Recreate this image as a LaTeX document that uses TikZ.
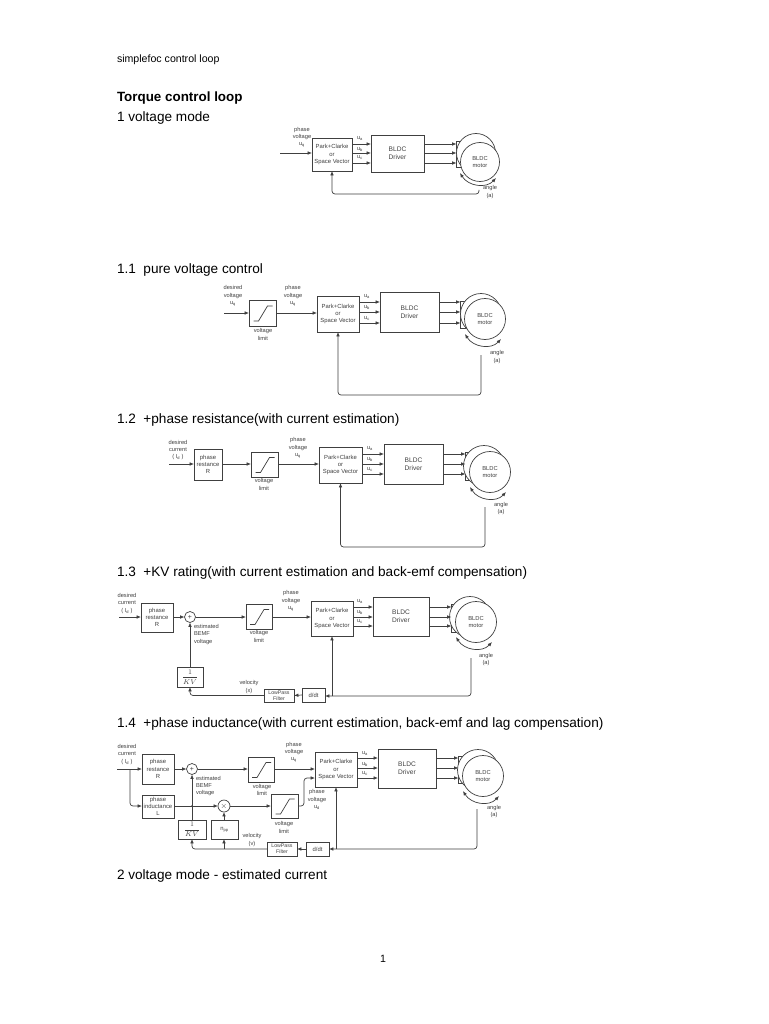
\documentclass[tikz,border=0pt]{standalone}
\usepackage{fontspec}
\setmainfont{Liberation Sans}
\usetikzlibrary{arrows.meta,calc}
\definecolor{ink}{gray}{0.25}
\newcounter{lblno}
\tikzset{
 every node/.style={inner sep=0pt,outer sep=0pt},
 blk/.style={draw=ink,line width=.8pt,fill=white,align=center,text=ink,font=\fontsize{5.9}{7.3}\selectfont},
 big/.style={font=\fontsize{6.6}{8}\selectfont},
 lbl/.style={align=center,text=ink,font=\fontsize{5.7}{7.3}\selectfont},
 lblw/.style={lbl,align=left,anchor=west},
 wire/.style={draw=ink,line width=.7pt},
 arr/.style={wire,-{Latex[length=4.4pt,width=3.6pt]}},
 arrb/.style={wire,{Latex[length=4.4pt,width=3.6pt]}-{Latex[length=4.4pt,width=3.6pt]}},
 fbk/.style={arr,rounded corners=3pt},
 ring/.style={draw=ink,line width=.7pt,circle,fill=white,align=center,text=ink,font=\fontsize{5.8}{7.3}\selectfont},
 head/.style={anchor=base west,font=\fontsize{13.6}{15}\selectfont},
 tiny/.style={font=\fontsize{5.2}{6}\selectfont},
 frac/.style={font=\fontsize{7}{8}\selectfont},
}
\newcommand\bx[7]{\node[blk,#1,minimum width={(#5-#3)*1pt},minimum height={(#6-#4)*1pt}] (#2) at ({(#3+#5)/2},{(#4+#6)/2}) {#7};}
\newcommand\lb[3]{\stepcounter{lblno}\node[lbl] (lab\arabic{lblno}) at (#1,#2) {#3};}
\newcommand\sat[1]{\draw[wire] ([shift={(-9,8)}]#1.center) -- ([shift={(-4,8)}]#1.center) -- ([shift={(5,-7)}]#1.center) -- ([shift={(10,-7)}]#1.center);}
\newcommand\motor[9]{%
 \node[draw=ink,line width=.6pt,fill=white,minimum width=5pt,minimum height={(#8-#7)*1pt},anchor=north east] (#1s) at ({#4-#6+1},#7) {};
 \node[ring,minimum size={2*#6*1pt}] (#1o) at (#2,#3) {};
 \node[ring,minimum size={2*#6*1pt}] (#1i) at (#4,#5) {BLDC\\motor};
 \coordinate (#1p) at ({#4-20},{#5+15+#9});
 \coordinate (#1q) at ({#4+16},{#5+20+#9});
 \coordinate (#1c) at ({#4-12},{#5+28+#9});
 \coordinate (#1d) at ({#4+6},{#5+31+#9});
 \draw[arrb] (#1p) .. controls (#1c) and (#1d) .. (#1q);
}
\newcommand\three[6]{% park, driver, stator, y1,y2,y3
 \draw[arr] (#1.east |- 0,#4) -- (#2.west |- 0,#4);
 \draw[arr] (#1.east |- 0,#5) -- (#2.west |- 0,#5);
 \draw[arr] (#1.east |- 0,#6) -- (#2.west |- 0,#6);
 \draw[arr] (#2.east |- 0,#4) -- (#3.west |- 0,#4);
 \draw[arr] (#2.east |- 0,#5) -- (#3.west |- 0,#5);
 \draw[arr] (#2.east |- 0,#6) -- (#3.west |- 0,#6);
}
\newcommand\us[4]{\lb{#1}{#2}{u\textsubscript{a}}\lb{#1}{#3}{u\textsubscript{b}}\lb{#1}{#4}{u\textsubscript{c}}}
\begin{document}
\begin{tikzpicture}[x=1pt,y=-1pt]
\useasboundingbox[fill=white] (0,0) rectangle (768,1024);
% page text
\node[head,font=\fontsize{10.6}{12}\selectfont] (t0) at (117,63) {simplefoc control loop};
\node[head,font=\bfseries\fontsize{13.4}{15}\selectfont] (t1) at (117,102) {Torque control loop};
\node[head] (t2) at (117,122) {1 voltage mode};
\node[head] (t3) at (117,273) {1.1\ \ pure voltage control};
\node[head] (t4) at (117,423) {1.2\ \ +phase resistance(with current estimation)};
\node[head] (t5) at (117,576) {1.3\ \ +KV rating(with current estimation and back-emf compensation)};
\node[head] (t6) at (117,727) {1.4\ \ +phase inductance(with current estimation, back-emf and lag compensation)};
\node[head] (t7) at (117,879) {2 voltage mode - estimated current};
\node[head,anchor=base,font=\fontsize{10.6}{12}\selectfont] (pg) at (383,962) {1};

% diagram 0
\bx{}{p0}{312}{138}{352}{171}{Park+Clarke\\or\\Space Vector}
\bx{big}{d0}{371}{135}{424}{172}{BLDC\\Driver}
\motor{m0}{476}{153}{480}{162}{19.5}{141}{167}{-4}
\three{p0}{d0}{m0s}{144}{153}{163}
\coordinate (i0) at (280,153);
\draw[arr] (i0) -- (p0.west |- i0);
\lb{302}{137.5}{phase\\voltage\\u\textsubscript{q}}
\us{360}{139}{150}{158}
\lb{490}{192}{angle\\(a)}
\coordinate (f0) at (479,190);
\coordinate (f0c) at (479,194);
\draw[fbk] (f0) -- (f0c) -- (p0.south |- f0c) -- (p0.south);

% diagram 1
\bx{}{s1}{249}{300}{276}{326}{}
\sat{s1}
\bx{}{p1}{317}{296}{359}{332}{Park+Clarke\\or\\Space Vector}
\bx{big}{d1}{380}{292}{439}{332}{BLDC\\Driver}
\motor{m1}{481}{314}{485}{319}{20.5}{301}{328}{0}
\three{p1}{d1}{m1s}{302}{312}{323}
\coordinate (i1) at (224,313);
\draw[arr] (i1) -- (s1.west |- i1);
\draw[arr] (s1.east |- i1) -- (p1.west |- i1);
\lb{233}{296}{desired\\voltage\\u\textsubscript{q}}
\lb{293}{296}{phase\\voltage\\u\textsubscript{q}}
\lb{263}{334.5}{voltage\\limit}
\us{367}{297}{308}{319}
\lb{497}{357}{angle\\(a)}
\coordinate (f1) at (481,355);
\coordinate (f1c) at (481,395);
\draw[fbk] (f1) -- (f1c) -- (p1.south |- f1c) -- (p1.south);

% diagram 2
\bx{}{r2}{194}{449}{222}{480}{phase\\restance\\R}
\bx{}{s2}{251}{452}{278}{477}{}
\sat{s2}
\bx{}{p2}{319}{447}{362}{483}{Park+Clarke\\or\\Space Vector}
\bx{big}{d2}{384}{444}{443}{484}{BLDC\\Driver}
\motor{m2}{484}{466}{490}{472}{20.5}{452}{480}{0}
\three{p2}{d2}{m2s}{454}{464}{474}
\coordinate (i2) at (169,464);
\draw[arr] (i2) -- (r2.west |- i2);
\draw[arr] (r2.east |- i2) -- (s2.west |- i2);
\draw[arr] (s2.east |- i2) -- (p2.west |- i2);
\lb{178}{450}{desired\\current\\( I\textsubscript{d} )}
\lb{298}{448}{phase\\voltage\\u\textsubscript{q}}
\lb{264}{484.5}{voltage\\limit}
\us{370}{449}{460}{470}
\lb{501}{508.5}{angle\\(a)}
\coordinate (f2) at (485,507);
\coordinate (f2c) at (485,547);
\draw[fbk] (f2) -- (f2c) -- (p2.south |- f2c) -- (p2.south);

% diagram 3
\bx{}{r3}{141}{603}{173}{632}{phase\\restance\\R}
\node[ring,minimum size=11pt,font=\fontsize{7}{7}\selectfont] (a3) at (190,617) {+};
\bx{}{s3}{246}{604}{272}{629}{}
\sat{s3}
\bx{}{p3}{311}{601}{353}{636}{Park+Clarke\\or\\Space Vector}
\bx{big}{d3}{373}{597}{429}{636}{BLDC\\Driver}
\motor{m3}{470}{617}{476}{622}{20.5}{604}{632}{0}
\three{p3}{d3}{m3s}{607}{617}{626}
\bx{frac}{k3}{177}{667}{203}{687}{$\displaystyle\frac{1}{KV}$}
\bx{tiny}{l3}{264}{689}{294}{702}{LowPass\\Filter}
\bx{}{q3}{302}{688}{325}{702}{d/dt}
\coordinate (i3) at (119,617);
\draw[arr] (i3) -- (r3.west |- i3);
\draw[arr] (r3.east |- i3) -- (a3.west);
\draw[arr] (a3.east) -- (s3.west |- a3.east);
\draw[arr] (s3.east |- a3.east) -- (p3.west |- a3.east);
\draw[arr] (k3.north) -- (a3.south);
\coordinate (f3) at (471,658);
\coordinate (f3c) at (471,696);
\draw[fbk] (f3) -- (f3c) -- (q3.east |- f3c);
\draw[arr] (p3.south |- f3c) -- (p3.south);
\draw[arr] (q3.west) -- (l3.east);
\coordinate (v3) at (k3.south |- l3.west);
\draw[fbk] (l3.west) -- (v3) -- (k3.south);
\lb{127}{603.5}{desired\\current\\( I\textsubscript{d} )}
\lb{291}{601}{phase\\voltage\\u\textsubscript{q}}
\lb{259}{636.5}{voltage\\limit}
\node[lblw] (e3) at (194,634.5) {estimated\\BEMF\\voltage};
\lb{249}{687}{velocity\\(x)}
\us{360}{602}{613}{622}
\lb{486}{659.5}{angle\\(a)}

% diagram 4
\bx{}{r4}{142}{754}{174}{784}{phase\\restance\\R}
\bx{}{n4}{142}{795}{174}{818}{phase\\inductance\\L}
\node[ring,minimum size=11pt,font=\fontsize{7}{7}\selectfont] (a4) at (192,769) {+};
\node[ring,minimum size=12pt,font=\fontsize{8}{8}\selectfont] (x4) at (224,806) {$\times$};
\bx{}{s4}{248}{757}{274}{782}{}
\sat{s4}
\bx{}{t4b}{271}{794}{298}{818}{}
\sat{t4b}
\bx{}{p4}{315}{752}{357}{787}{Park+Clarke\\or\\Space Vector}
\bx{big}{d4}{378}{749}{436}{788}{BLDC\\Driver}
\motor{m4}{478}{770}{483}{776}{20.5}{756}{783}{0}
\three{p4}{d4}{m4s}{758}{768}{778}
\bx{frac}{k4}{178}{820}{206}{839}{$\displaystyle\frac{1}{KV}$}
\bx{}{z4}{211}{820}{238}{839}{n\textsubscript{pp}}
\bx{tiny}{l4}{267}{842}{297}{856}{LowPass\\Filter}
\bx{}{q4}{306}{842}{329}{856}{d/dt}
\coordinate (i4) at (117,769);
\coordinate (j4) at (130,769);
\coordinate (j4b) at (130,806);
\draw[arr] (i4) -- (r4.west |- i4);
\draw[fbk] (j4) -- (j4b) -- (n4.west |- j4b);
\draw[arr] (r4.east |- a4.west) -- (a4.west);
\draw[arr] (a4.east) -- (s4.west |- a4.east);
\draw[arr] (s4.east |- a4.east) -- (p4.west |- a4.east);
\draw[arr] (n4.east |- x4.west) -- (x4.west);
\draw[arr] (x4.east) -- (t4b.west |- x4.east);
\coordinate (g4) at (304,806);
\coordinate (g4c) at (304,778);
\draw[fbk] (t4b.east |- g4) -- (g4) -- (g4c) -- (p4.west |- g4c);
\coordinate (w4) at (192,806);
\fill[ink] (w4) circle (1pt);
\draw[arr] (k4.north -| a4.south) -- (a4.south);
\draw[arr] (z4.north -| x4.south) -- (x4.south);
\coordinate (f4) at (477,809);
\coordinate (f4c) at (477,849);
\draw[fbk] (f4) -- (f4c) -- (q4.east |- f4c);
\draw[arr] (p4.south |- f4c) -- (p4.south);
\draw[arr] (q4.west) -- (l4.east);
\coordinate (v4) at (192,849);
\draw[fbk] (l4.west) -- (v4) -- (k4.south -| v4);
\coordinate (v4b) at (224,849);
\draw[arr] (v4b) -- (z4.south -| v4b);
\lb{127}{754.5}{desired\\current\\( I\textsubscript{d} )}
\lb{294}{752.5}{phase\\voltage\\u\textsubscript{q}}
\lb{317}{799.5}{phase\\voltage\\u\textsubscript{d}}
\lb{262}{790}{voltage\\limit}
\lb{284}{827.5}{voltage\\limit}
\node[lblw] (e4) at (196,786) {estimated\\BEMF\\voltage};
\lb{252}{840}{velocity\\(v)}
\us{365}{754}{765}{774}
\lb{494}{811.5}{angle\\(a)}
\end{tikzpicture}
\end{document}
